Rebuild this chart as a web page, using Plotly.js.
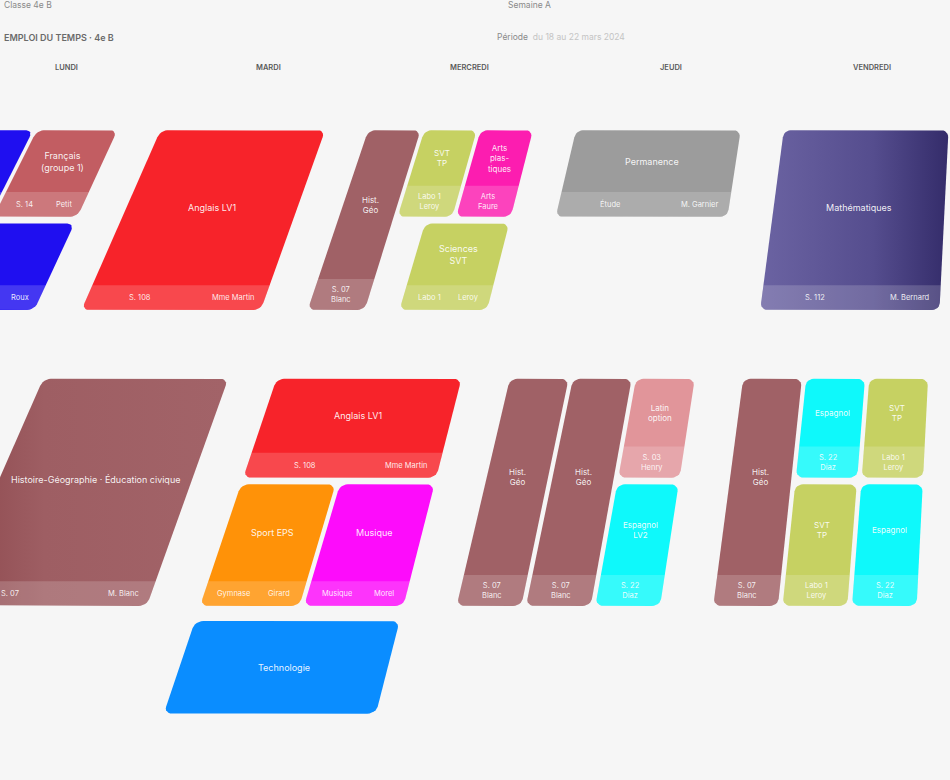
<!DOCTYPE html>
<html>
<head>
<meta charset="utf-8">
<script src="https://cdn.plot.ly/plotly-3.0.1.min.js"></script>
<style>
html,body{margin:0;padding:0;background:#f6f6f6;overflow:hidden;}
#chart{width:950px;height:780px;}
</style>
</head>
<body>
<div id="chart"></div>
<script>
// ---------------- DATA ----------------
const days = ['LUNDI', 'MARDI', 'MERCREDI', 'JEUDI', 'VENDREDI'];

// one entry per lesson
const evDay   = [0, 0, 0, 1, 2, 2, 2, 2, 3, 4,   0, 1, 2, 2, 2, 2, 3, 3, 3, 3, 4, 4, 4, 4, 4];
const evStart = [480, 480, 525, 480, 480, 480, 480, 525, 480, 480,   600, 600, 600, 651, 651, 717, 600, 600, 600, 651, 600, 600, 600, 651, 651];
const evEnd   = [525, 525, 570, 570, 570, 525, 525, 570, 525, 570,   713, 713, 651, 713, 713, 765, 713, 713, 651, 713, 713, 651, 651, 713, 713];
const evLane  = [0, 1, 0, 0, 0, 1, 2, 1, 0, 0,   0, 0, 0, 0, 1, 0, 0, 1, 2, 2, 0, 1, 2, 1, 2];
const evLanes = [2, 2, 1, 1, 3, 3, 3, 2, 1, 1,   1, 1, 1, 2, 2, 1, 3, 3, 3, 3, 3, 3, 3, 3, 3];
const evSubject = ['phys', 'fr', 'phys', 'ang', 'hg', 'svt', 'arts', 'svt', 'perm', 'math',
                   'ang', 'hg', 'ang', 'eps', 'mus', 'techno', 'hg', 'hg', 'latin', 'esp', 'hg', 'esp', 'svt', 'svt', 'esp'];
const evTitle = ['Physique-<br>Chimie', 'Français<br>(groupe 1)', 'Physique-<br>Chimie<br>TP', 'Anglais LV1', 'Hist.<br>Géo', 'SVT<br>TP', 'Arts<br>plas-<br>tiques', 'Sciences<br>SVT', 'Permanence', 'Mathématiques',
                 'Anglais', 'Histoire-Géographie · Éducation civique', 'Anglais LV1', 'Sport EPS', 'Musique', 'Technologie', 'Hist.<br>Géo', 'Hist.<br>Géo', 'Latin<br>option', 'Espagnol<br>LV2', 'Hist.<br>Géo', 'Espagnol', 'SVT<br>TP', 'SVT<br>TP', 'Espagnol'];
const evRoom = ['S. 21', 'S. 14', 'Labo 2', 'S. 108', 'S. 07', 'Labo 1', 'Arts', 'Labo 1', 'Étude', 'S. 112',
                'S. 108', 'S. 07', 'S. 108', 'Gymnase', 'Musique', 'Techno', 'S. 07', 'S. 07', 'S. 03', 'S. 22', 'S. 07', 'S. 22', 'Labo 1', 'Labo 1', 'S. 22'];
const evTeacher = ['Roux', 'Petit', 'Roux', 'Mme Martin', 'Blanc', 'Leroy', 'Faure', 'Leroy', 'M. Garnier', 'M. Bernard',
                   'Martin', 'M. Blanc', 'Mme Martin', 'Girard', 'Morel', 'M. Lambert', 'Blanc', 'Blanc', 'Henry', 'Diaz', 'Blanc', 'Diaz', 'Leroy', 'Leroy', 'Diaz'];

const headLeft1 = 'Classe 4e B';
const headLeft2 = 'EMPLOI DU TEMPS · 4e B';
const headRight1 = 'Semaine A';
const headRight2a = 'Période';
const headRight2b = 'du 18 au 22 mars 2024';

// ---------------- STYLE ----------------
const subjectColor = {
  phys: '#1f0ff0', fr: '#c25d62', ang: '#f7232a', hg: '#a06166', svt: '#c6d162',
  arts: '#fc1db0', perm: '#9c9c9c', math: '#5f5798', eps: '#ff9208', mus: '#fd0cfb',
  techno: '#0a8dff', latin: '#e1959a', esp: '#0ef9fb'
};
const FONT = 'Inter, "Open Sans", sans-serif';

// flat page geometry (before the camera's perspective)
const COL0 = -10, PITCH = 217, COLW = 172, LANEGAP = 4, VGAP = 1.6, RADIUS = 7;
// vertical scale: minutes -> pixels (drawn by Plotly's y axis)
const Y0MIN = 480, Y0PX = 127, PXMIN = 2.07;
const yTop = Y0MIN - Y0PX / PXMIN, yBot = Y0MIN + (780 - Y0PX) / PXMIN;
// perspective of the photographed page
const VX = 1050, VY = -1894, YREF = 220;

function pxOfMin(m) { return Y0PX + (m - Y0MIN) * PXMIN; }
function shiftOf(ypx) { const t = Math.min(1, Math.max(0, (ypx - 315) / 57)); return -8 * t; }
function proj(X, m) {
  const y = pxOfMin(m);
  const s = (y - VY) / (YREF - VY);
  return VX + (X - VX) * s + shiftOf(y);
}

function roundedPoly(x0, x1, m0, m1, rTop, rBot) {
  const y0 = pxOfMin(m0), y1 = pxOfMin(m1);
  const corners = [
    [x0 + rTop, y0 + rTop, 180, 270, rTop],
    [x1 - rTop, y0 + rTop, 270, 360, rTop],
    [x1 - rBot, y1 - rBot, 0, 90, rBot],
    [x0 + rBot, y1 - rBot, 90, 180, rBot]
  ];
  const xs = [], ys = [];
  corners.forEach(([cx, cy, a0, a1, r]) => {
    const n = r > 0 ? 6 : 0;
    for (let i = 0; i <= n; i++) {
      const a = (a0 + (a1 - a0) * (n ? i / n : 0)) * Math.PI / 180;
      const px = cx + r * Math.cos(a), py = cy + r * Math.sin(a);
      const m = Y0MIN + (py - Y0PX) / PXMIN;
      xs.push(proj(px, m)); ys.push(m);
    }
  });
  xs.push(xs[0]); ys.push(ys[0]);
  return { xs, ys };
}

const traces = [];
const annotations = [];
function addText(x, m, text, font, opts) {
  if (x < 0 || x > 950) return; // outside the photographed page
  annotations.push(Object.assign({ x: x, y: m, xref: 'x', yref: 'y', text: text, showarrow: false, font: font }, opts || {}));
}

evDay.forEach((d, i) => {
  const left = COL0 + PITCH * d - COLW / 2;
  const lanes = evLanes[i];
  const lw = (COLW - LANEGAP * (lanes - 1)) / lanes;
  const x0 = left + evLane[i] * (lw + LANEGAP);
  const x1 = x0 + lw;
  const m0 = evStart[i] + VGAP, m1 = evEnd[i] - VGAP;
  const subj = evSubject[i];
  const cell = roundedPoly(x0, x1, m0, m1, RADIUS, RADIUS);
  const tr = {
    type: 'scatter', mode: 'lines', x: cell.xs, y: cell.ys, fill: 'toself',
    fillcolor: subjectColor[subj], line: { width: 0, color: 'rgba(0,0,0,0)' },
    hoverinfo: 'skip', showlegend: false
  };
  if (subj === 'math') {
    tr.fillgradient = { type: 'horizontal', colorscale: [[0, '#6b63a2'], [0.6, '#554d8e'], [1, '#342c6a']] };
  }
  if (subj === 'hg' && lanes === 1) {
    tr.fillgradient = { type: 'horizontal', colorscale: [[0, '#8c474c'], [0.35, '#9e5e63'], [1, '#a26368']] };
  }
  traces.push(tr);

  const narrow = lanes >= 3;
  const hasBand = subj !== 'techno';
  const bandMin = narrow ? 15 : 12;
  if (hasBand) {
    const band = roundedPoly(x0, x1, m1 - bandMin, m1, 0, RADIUS);
    traces.push({
      type: 'scatter', mode: 'lines', x: band.xs, y: band.ys, fill: 'toself',
      fillcolor: 'rgba(255,255,255,0.17)', line: { width: 0, color: 'rgba(0,0,0,0)' },
      hoverinfo: 'skip', showlegend: false
    });
  }
  const mTitle = hasBand ? (m0 + m1 - bandMin) / 2 : (m0 + m1) / 2;
  const xc = (x0 + x1) / 2;
  addText(proj(xc, mTitle), mTitle, evTitle[i],
    { family: FONT, size: narrow ? 8 : 9, color: 'rgba(255,255,255,0.92)' }, { align: 'center' });
  if (hasBand) {
    const lab = { family: FONT, size: 7.5, color: 'rgba(255,255,255,0.9)' };
    const mb = m1 - bandMin / 2;
    if (narrow || lw < 70) {
      addText(proj(xc, mb), mb, evRoom[i] + '<br>' + evTeacher[i], lab, { align: 'center' });
    } else {
      addText(proj(x0 + lw * 0.3, mb), mb, evRoom[i], lab);
      addText(proj(x1 - 9, mb), mb, evTeacher[i], lab, { xanchor: 'right' });
    }
  }
});

// day headers
const mHead = Y0MIN + (67 - Y0PX) / PXMIN;
days.forEach((d, k) => {
  addText(proj(COL0 + PITCH * k, mHead), mHead, d, { family: FONT, size: 7.5, color: '#5a5a5a', weight: 600 });
});

// page header texts
const mL1 = Y0MIN + (5 - Y0PX) / PXMIN, mL2 = Y0MIN + (37 - Y0PX) / PXMIN;
addText(Math.max(2, proj(-122, mL1)), mL1, headLeft1, { family: FONT, size: 8.5, color: '#8a8a8a' }, { xanchor: 'left' });
addText(Math.max(2, proj(-108, mL2)), mL2, headLeft2, { family: FONT, size: 9, color: '#6a6a6a', weight: 600 }, { xanchor: 'left' });
addText(proj(444, mL1), mL1, headRight1, { family: FONT, size: 8.5, color: '#8a8a8a' }, { xanchor: 'left' });
addText(proj(442, mL2), mL2, headRight2a + '  <span style="color:#c4c4c4">' + headRight2b + '</span>',
  { family: FONT, size: 8.5, color: '#8a8a8a' }, { xanchor: 'left' });

const layout = {
  width: 950, height: 780,
  margin: { l: 0, r: 0, t: 0, b: 0, pad: 0 },
  paper_bgcolor: '#f6f6f6', plot_bgcolor: '#f6f6f6',
  xaxis: { range: [0, 950], visible: false, fixedrange: true },
  yaxis: { range: [yBot, yTop], visible: false, fixedrange: true },
  showlegend: false,
  annotations: annotations
};

Plotly.newPlot('chart', traces, layout, { displayModeBar: false, staticPlot: true });
</script>
</body>
</html>
